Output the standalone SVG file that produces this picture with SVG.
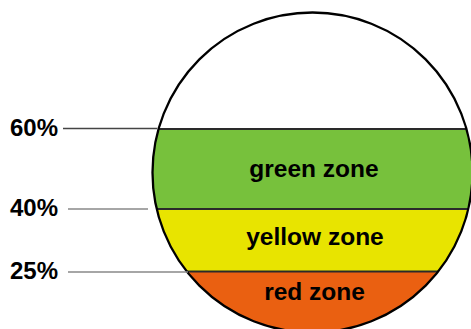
<svg xmlns="http://www.w3.org/2000/svg" width="471" height="329" viewBox="0 0 471 329">
<style>
.lbl{font-family:"Liberation Sans",Arial,sans-serif;font-weight:bold;font-size:24px;fill:#000}
.zone{font-family:"Liberation Sans",Arial,sans-serif;font-weight:bold;font-size:24.5px;fill:#000;text-anchor:middle}
.band{stroke:#2a2a2a;stroke-width:2}
.lead{stroke:#888;stroke-width:1.3;fill:none}
</style>
<defs>
<clipPath id="cc"><circle cx="312.5" cy="172.5" r="160"/></clipPath>
</defs>
<rect width="471" height="329" fill="#fff"/>
<g id="gauge">
<g clip-path="url(#cc)">
<rect x="150" y="129" width="330" height="80" fill="#77c13c"/>
<rect x="150" y="209" width="330" height="62.5" fill="#e8e400"/>
<rect x="150" y="271.5" width="330" height="70" fill="#ea6011"/>
<line class="band" x1="150" y1="129" x2="480" y2="129"/>
<line class="band" x1="150" y1="209" x2="480" y2="209"/>
<line class="band" x1="150" y1="271.5" x2="480" y2="271.5"/>
</g>
<circle cx="312.5" cy="172.5" r="160" fill="none" stroke="#000" stroke-width="2.3"/>
</g>
<g id="zone-green"><text class="zone" x="314" y="177">green zone</text></g>
<g id="zone-yellow"><text class="zone" x="315" y="245">yellow zone</text></g>
<g id="zone-red"><text class="zone" x="314.5" y="300">red zone</text></g>
<g id="connectors">
<line class="lead" x1="63" y1="128.5" x2="157" y2="128.5" style="stroke:#444"/>
<line class="lead" x1="68" y1="209" x2="148" y2="209"/>
<line class="lead" x1="68" y1="272" x2="188" y2="272"/>
</g>
<g id="label-60"><text class="lbl" x="10" y="135.5">60%</text></g>
<g id="label-40"><text class="lbl" x="10" y="215.5">40%</text></g>
<g id="label-25"><text class="lbl" x="10" y="279">25%</text></g>
</svg>
